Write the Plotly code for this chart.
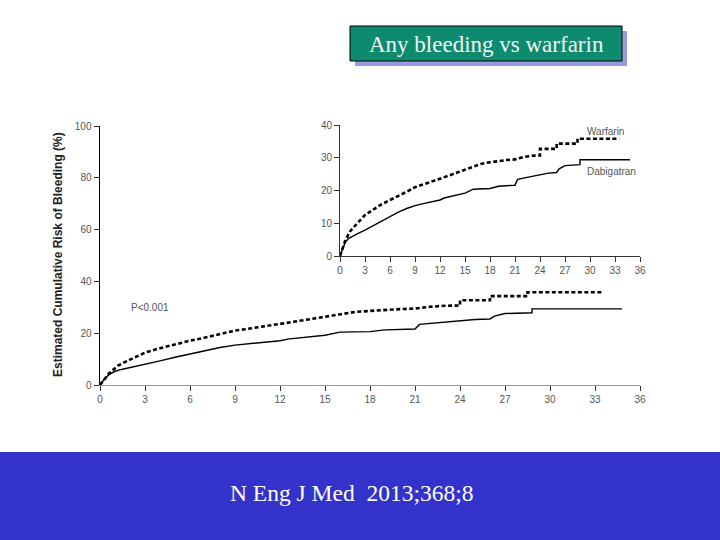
import plotly.graph_objects as go

# Data (months, cumulative risk %)
warf_x = [0, 0.3, 0.6, 1.0, 1.2, 2, 3, 4, 5, 6, 7, 8, 9, 10, 11, 12, 13, 14, 15, 16, 17, 18, 19, 20, 21, 22, 23, 24, 24, 26, 26, 28.5, 28.5, 33.5]
warf_y = [0, 2.5, 4.5, 6.5, 7.5, 9.8, 12.5, 14.2, 15.8, 17.1, 18.3, 19.6, 21, 21.8, 22.6, 23.6, 24.5, 25.4, 26.4, 27.4, 28.2, 28.6, 29.0, 29.3, 29.5, 30.2, 30.6, 30.7, 32.7, 32.7, 34.3, 34.3, 35.8, 35.8]
dabi_x = [0, 0.3, 0.6, 1, 1.5, 2, 3, 4, 5, 6, 7, 8, 9, 10, 11, 12, 12.5, 13, 14, 15, 16, 17, 18, 19, 20, 21, 21.3, 22, 23, 24, 25, 26, 26.3, 27, 28.8, 28.8, 34.8]
dabi_y = [0, 2.3, 4.0, 5.3, 6.1, 6.7, 7.9, 9.3, 10.7, 12, 13.4, 14.5, 15.4, 16, 16.6, 17.1, 17.7, 18, 18.6, 19.2, 20.4, 20.5, 20.6, 21.3, 21.5, 21.6, 23.4, 23.8, 24.2, 24.8, 25.3, 25.5, 26.6, 27.6, 27.9, 29.4, 29.4]
x_ticks = [0, 3, 6, 9, 12, 15, 18, 21, 24, 27, 30, 33, 36]
main_y_ticks = [0, 20, 40, 60, 80, 100]
inset_y_ticks = [0, 10, 20, 30, 40]

fig = go.Figure()
for xa, ya in [("x", "y"), ("x2", "y2")]:
    fig.add_trace(go.Scatter(x=warf_x, y=warf_y, mode="lines", xaxis=xa, yaxis=ya,
                             line=dict(color="black", width=2.6, dash="4px,2.5px"), showlegend=False))
    fig.add_trace(go.Scatter(x=dabi_x, y=dabi_y, mode="lines", xaxis=xa, yaxis=ya,
                             line=dict(color="black", width=1.4), showlegend=False))

SANS = "Liberation Sans Narrow, Liberation Sans, Arial"
SERIF = "Liberation Serif, Times New Roman"
tickfont = dict(family=SANS, size=10, color="#555555")
axis_common = dict(showgrid=False, zeroline=False, ticks="outside", ticklen=5, automargin=False,
                   tickcolor="#333333", tickfont=tickfont, fixedrange=True)

def py(p):
    return (540 - p) / 540

def px(p):
    return p / 720

fig.update_layout(
    width=720, height=540, margin=dict(l=0, r=0, t=0, b=0, pad=0, autoexpand=False),
    paper_bgcolor="white", plot_bgcolor="rgba(0,0,0,0)",
    xaxis=dict(domain=[px(100), px(640)], range=[0, 36], tickvals=x_ticks,
               showline=True, linecolor="#999999", linewidth=1, anchor="y", **axis_common),
    yaxis=dict(domain=[py(385), py(126)], range=[0, 100], tickvals=main_y_ticks,
               showline=True, linecolor="black", linewidth=1.5, anchor="x", **axis_common),
    xaxis2=dict(domain=[px(340), px(640)], range=[0, 36], tickvals=x_ticks,
                showline=True, linecolor="#333333", linewidth=1, anchor="y2", **axis_common),
    yaxis2=dict(domain=[py(256), py(125)], range=[0, 40], tickvals=inset_y_ticks,
                showline=True, linecolor="#333333", linewidth=1, anchor="x2", **axis_common),
)

# blue footer band
fig.add_shape(type="rect", xref="paper", yref="paper", x0=-0.02, x1=1.02, y0=-0.02, y1=py(452),
              fillcolor="#3333CC", line=dict(width=0), layer="below")
fig.add_annotation(xref="paper", yref="paper", x=px(351), y=py(493), xanchor="center", yanchor="middle",
                   text="N Eng J Med  2013;368;8", showarrow=False,
                   font=dict(family=SERIF, size=23.5, color="white"))

# title box with shadow
fig.add_shape(type="rect", xref="paper", yref="paper", x0=px(355), x1=px(627),
              y0=py(66), y1=py(31), fillcolor="#9A9AE0", line=dict(width=0))
fig.add_shape(type="rect", xref="paper", yref="paper", x0=px(350), x1=px(622),
              y0=py(61), y1=py(26), fillcolor="#0E8A6E", line=dict(color="black", width=1))
fig.add_annotation(xref="paper", yref="paper", x=px(486), y=py(44), xanchor="center", yanchor="middle",
                   text="Any bleeding vs warfarin", showarrow=False,
                   font=dict(family=SERIF, size=23, color="#F0F6F4"))

# y axis title
fig.add_annotation(xref="paper", yref="paper", x=px(58), y=py(255), xanchor="center", yanchor="middle",
                   text="<b>Estimated Cumulative Risk of Bleeding (%)</b>", showarrow=False, textangle=-90,
                   font=dict(family=SANS, size=12, color="#222222"))

# P value
fig.add_annotation(xref="x", yref="y", x=1.9, y=29.8, xanchor="left", yanchor="middle",
                   text="P<0.001", showarrow=False, font=dict(family=SANS, size=10, color="#555555"))

# inset labels
fig.add_annotation(xref="paper", yref="paper", x=px(585), y=py(131), xanchor="left", yanchor="middle",
                   text="Warfarin", showarrow=False, font=dict(family=SANS, size=10, color="#555555"))
fig.add_annotation(xref="paper", yref="paper", x=px(585), y=py(171), xanchor="left", yanchor="middle",
                   text="Dabigatran", showarrow=False, font=dict(family=SANS, size=10, color="#555555"))

post = ("var h=document.documentElement,b=document.body;"
        "[h,b].forEach(function(e){e.style.margin='0';e.style.padding='0';e.style.overflow='hidden';});")
fig.write_html("out.html", post_script=post, config={"displayModeBar": False, "staticPlot": True})
